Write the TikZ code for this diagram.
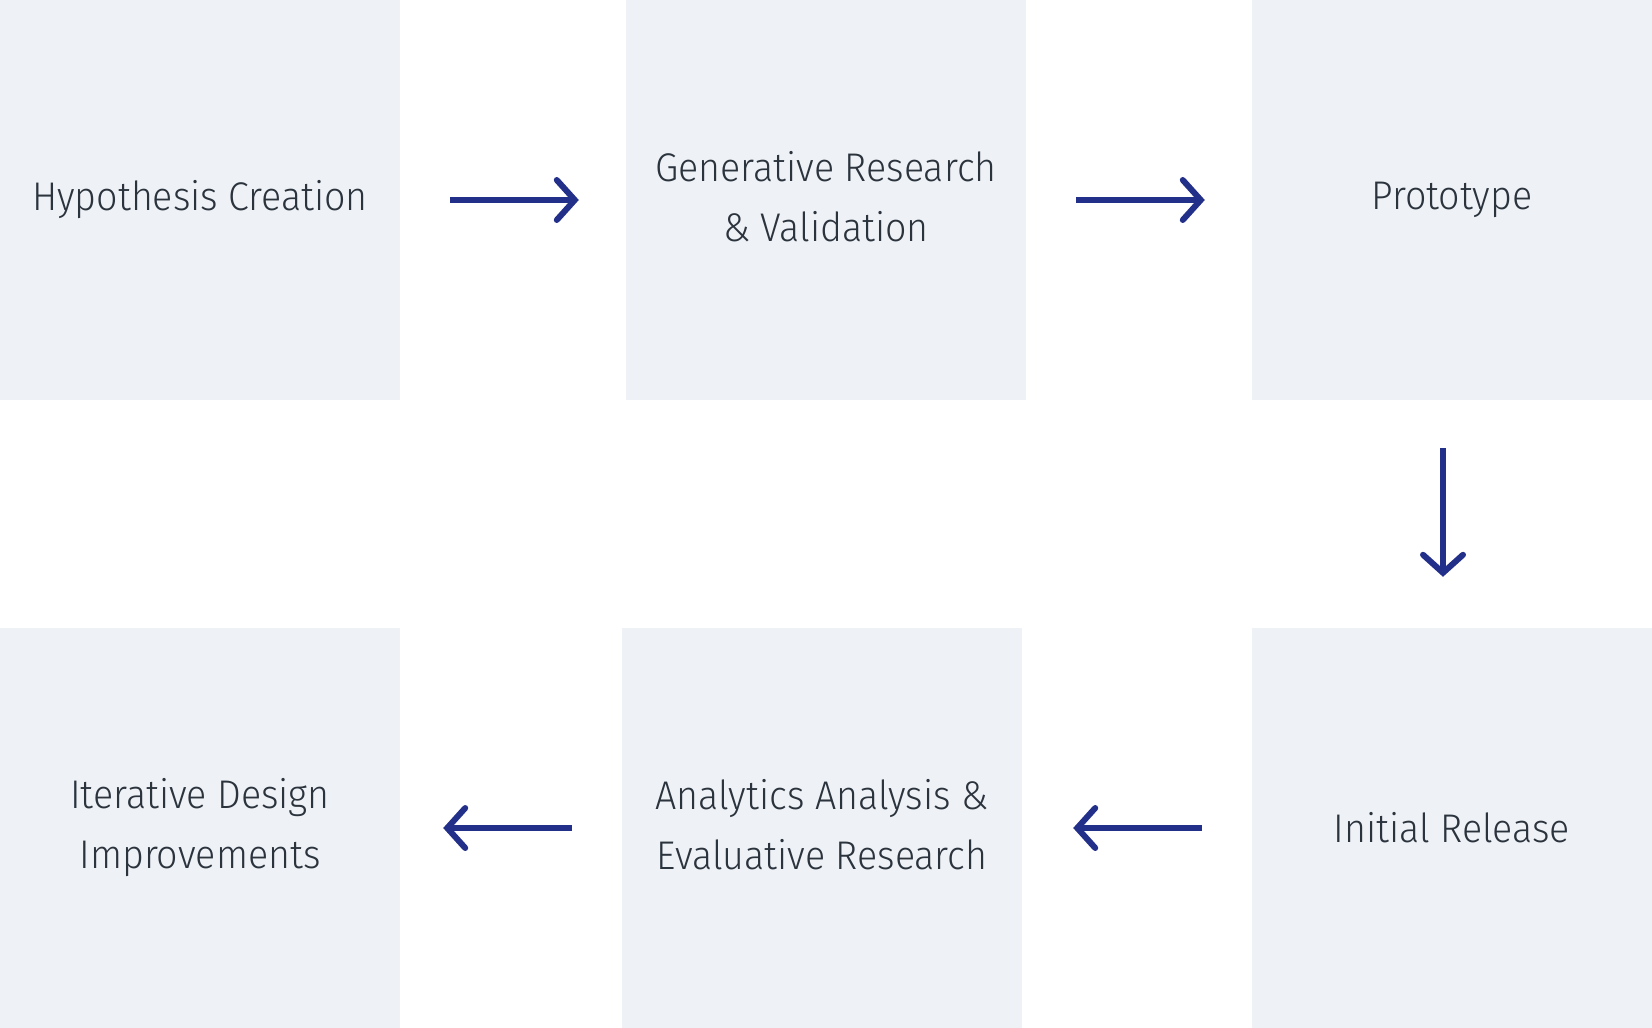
\documentclass[tikz,border=0pt]{standalone}
\usepackage{fontspec}
\setmainfont[FakeStretch=0.94, UprightFont={* Light}]{Fira Sans}
\usepackage{tikz}
\usetikzlibrary{arrows.meta}

\definecolor{boxfill}{HTML}{EEF1F6}
\definecolor{stepink}{HTML}{2B333D}
\definecolor{flowblue}{HTML}{23308A}

\tikzset{
    stepbox/.style={rectangle, fill=boxfill, minimum width=400pt, minimum height=400pt,
        inner sep=0pt, align=center, text=stepink, font=\fontsize{40}{60}\selectfont},
    lift/.style={text depth=8pt},
    flow/.style={draw=flowblue, line width=6pt,
        -{Straight Barb[length=18pt, width=40pt, line cap=round]}}
}

\begin{document}
\begin{tikzpicture}[x=1pt, y=-1pt]
    % Canvas
    \useasboundingbox (0,0) rectangle (1652,1028);
    % Top row
    \node[stepbox] (hypo) at (200,200) {Hypothesis Creation};
    \node[stepbox, lift] (genres) at (826,200) {Generative Research\\\& Validation};
    \node[stepbox] (proto) at (1452,200) {Prototype};
    % Bottom row
    \node[stepbox] (iter) at (200,828) {Iterative Design\\Improvements};
    \node[stepbox, lift] (analytics) at (822,828) {Analytics Analysis \&\\Evaluative Research};
    \node[stepbox] (release) at (1452,828) {Initial Release};
    % Arrows between steps
    \draw[flow, shorten <=50pt, shorten >=47pt] (hypo.east) -- (genres.west);
    \draw[flow, shorten <=50pt, shorten >=47pt] (genres.east) -- (proto.west);
    \draw[flow, shorten <=48pt, shorten >=51pt] ([xshift=-9pt]proto.south) -- ([xshift=-9pt]release.north);
    \draw[flow, shorten <=50pt, shorten >=51pt] (release.west) -- (analytics.east);
    \draw[flow, shorten <=50pt, shorten >=43pt] (analytics.west) -- (iter.east);
\end{tikzpicture}
\end{document}
